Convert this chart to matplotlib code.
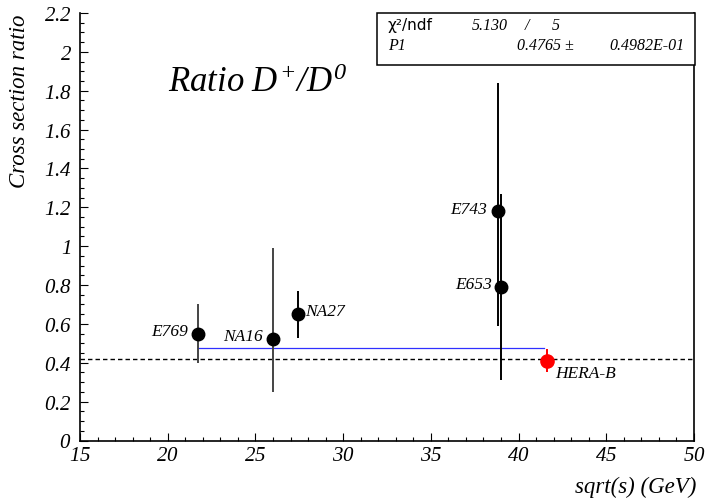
import matplotlib
matplotlib.use("Agg")
import matplotlib.pyplot as plt
from matplotlib.patches import Rectangle
from matplotlib.ticker import MultipleLocator, FuncFormatter

# ---- data -------------------------------------------------------------
experiments = ["E769", "NA16", "NA27", "E743", "E653"]
sqrt_s = [21.7, 26.0, 27.4, 38.8, 39.0]
ratio = [0.55, 0.52, 0.65, 1.18, 0.79]
err_low = [0.15, 0.27, 0.12, 0.59, 0.48]
err_high = [0.15, 0.47, 0.12, 0.66, 0.48]
bar_colors = ["#444444", "#444444", "black", "black", "black"]
label_offsets = [(-9, -1), (-10, -1), (8, -1), (-10, -2), (-9, -1)]
label_align = ["right", "right", "left", "right", "right"]

herab_name = "HERA-B"
herab_sqrt_s = 41.6
herab_ratio = 0.41
herab_err = 0.06

fit_value = 0.4765
fit_error = "0.4982E-01"
fit_range = (21.7, 41.45)
chi2 = "5.130"
ndf = "5"
reference_level = 0.42

# ---- fonts ------------------------------------------------------------
plt.rcParams["font.family"] = ["Liberation Serif", "DejaVu Serif"]
plt.rcParams["font.style"] = "italic"
plt.rcParams["mathtext.fontset"] = "custom"
plt.rcParams["mathtext.it"] = "Liberation Serif:italic"
plt.rcParams["mathtext.rm"] = "Liberation Serif:italic"

W, H = 707, 502
fig = plt.figure(figsize=(W / 100, H / 100), dpi=100)
ax_l, ax_r, ax_t, ax_b = 80, 694, 14, 441.5
ax = fig.add_axes([ax_l / W, 1 - ax_b / H, (ax_r - ax_l) / W, (ax_b - ax_t) / H])

ax.set_xlim(15, 50)
ax.set_ylim(0, 2.2)
ax.spines["top"].set_visible(False)
for s in ("left", "bottom", "right"):
    ax.spines[s].set_linewidth(1.2)


def italic_number(v, pos):
    return r"$\mathit{" + f"{v:g}" + "}$"


ax.xaxis.set_major_locator(MultipleLocator(5))
ax.xaxis.set_minor_locator(MultipleLocator(1))
ax.yaxis.set_major_locator(MultipleLocator(0.2))
ax.yaxis.set_minor_locator(MultipleLocator(0.05))
ax.xaxis.set_major_formatter(FuncFormatter(italic_number))
ax.yaxis.set_major_formatter(FuncFormatter(italic_number))
ax.tick_params(which="both", direction="in", top=False, right=False,
               width=0.8, labelsize=15)
ax.tick_params(which="major", length=6)
ax.tick_params(which="minor", length=3)
ax.tick_params(axis="x", pad=4)
ax.tick_params(axis="y", pad=6)

# reference level and fitted constant
ax.axhline(reference_level, color="black", lw=1.0, ls=(0, (3.2, 2.2)), zorder=1)
ax.plot(fit_range, [fit_value, fit_value], color="#3030ff", lw=0.9, zorder=2)

# measurements
for name, x, y, lo, hi, c, off, ha in zip(experiments, sqrt_s, ratio, err_low,
                                          err_high, bar_colors, label_offsets,
                                          label_align):
    ax.errorbar([x], [y], yerr=[[lo], [hi]], fmt="none", ecolor=c,
                elinewidth=1.4, capsize=0, zorder=3)
    ax.plot([x], [y], "o", color="black", ms=9, zorder=4)
    ax.annotate(name, (x, y), xytext=off, textcoords="offset pixels",
                ha=ha, va="baseline", fontsize=12.5, style="italic")

ax.errorbar([herab_sqrt_s], [herab_ratio], yerr=[herab_err], fmt="none",
            ecolor="red", elinewidth=1.4, capsize=0, zorder=3)
ax.plot([herab_sqrt_s], [herab_ratio], "o", color="red", ms=9.5, zorder=4)
ax.annotate(herab_name, (herab_sqrt_s, herab_ratio), xytext=(9, -16),
            textcoords="offset pixels", ha="left", va="baseline",
            fontsize=12.5, style="italic")

# axis titles
fig.text(20 / W, 1 - 14 / H, "Cross section ratio", rotation=90,
         ha="center", va="top", fontsize=16.5, style="italic")
fig.text(696 / W, 1 - 487 / H, "sqrt(s) (GeV)", ha="right", va="center",
         fontsize=16.5, style="italic")

# plot title
fig.text(168 / W, 1 - 92 / H, r"$\mathit{Ratio\ D^{+}/D^{0}}$", fontsize=25)

# fit statistics box
bx0, bx1, by0, by1 = 377, 695, 14, 66
fig.patches.append(Rectangle((bx0 / W, 1 - by1 / H), (bx1 - bx0) / W,
                             (by1 - by0) / H, transform=fig.transFigure,
                             facecolor="white", edgecolor="black", lw=1.1,
                             zorder=5))
fig.text(388 / W, 1 - 30 / H, "\u03c7\u00b2/ndf", fontsize=11,
         family="DejaVu Sans", style="normal", zorder=6)
fig.text(472 / W, 1 - 30 / H, chi2, fontsize=11.5, zorder=6)
fig.text(525 / W, 1 - 30 / H, "/", fontsize=11.5, zorder=6)
fig.text(552 / W, 1 - 30 / H, ndf, fontsize=11.5, zorder=6)
fig.text(388 / W, 1 - 50 / H, "P1", fontsize=11.5, zorder=6)
fig.text(574 / W, 1 - 50 / H, f"{fit_value:.4f} \u00b1", fontsize=11.5,
         ha="right", zorder=6)
fig.text(685 / W, 1 - 50 / H, fit_error, fontsize=11.5, ha="right", zorder=6)

fig.savefig("out.png", dpi=100)
